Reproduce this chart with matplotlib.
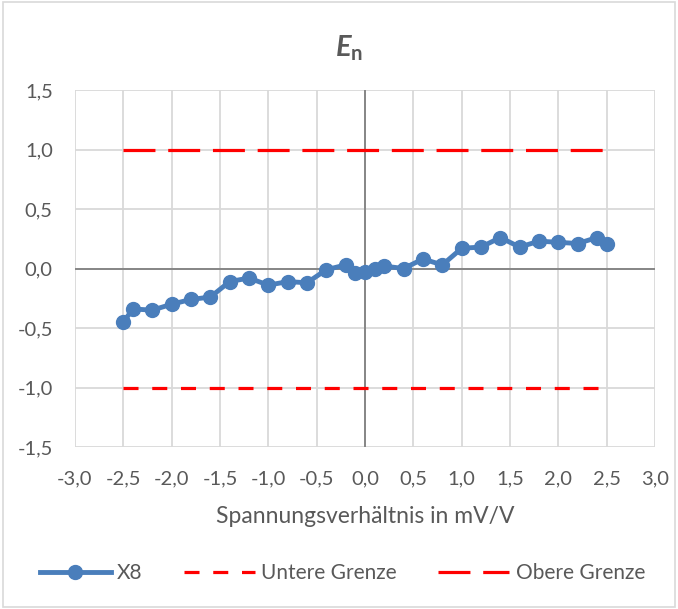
import matplotlib
matplotlib.use("Agg")
import matplotlib.pyplot as plt
from matplotlib.ticker import FuncFormatter, MultipleLocator
from matplotlib.patches import Rectangle

# data
ratio = [-2.5, -2.4, -2.2, -2.0, -1.8, -1.6, -1.4, -1.2, -1.0, -0.8, -0.6, -0.4,
         -0.2, -0.1, 0.0, 0.1, 0.2, 0.4, 0.6, 0.8, 1.0, 1.2, 1.4, 1.6, 1.8,
         2.0, 2.2, 2.4, 2.5]
en_x8 = [-0.45, -0.34, -0.35, -0.30, -0.26, -0.24, -0.11, -0.08, -0.14, -0.11,
         -0.12, -0.01, 0.03, -0.04, -0.03, 0.00, 0.02, 0.00, 0.08, 0.03, 0.17,
         0.18, 0.26, 0.18, 0.23, 0.22, 0.21, 0.26, 0.21]
limit_x = [-2.5, 2.5]
lower_limit = [-1.0, -1.0]
upper_limit = [1.0, 1.0]

txt = "#595959"
plt.rcParams["font.family"] = ["Lato", "DejaVu Sans"]
plt.rcParams["mathtext.fontset"] = "custom"
plt.rcParams["mathtext.it"] = "Lato:italic:bold"
plt.rcParams["mathtext.rm"] = "Lato:bold"

fig = plt.figure(figsize=(6.78, 6.09), dpi=100)
ax = fig.add_axes([75 / 678, 1 - 447 / 609, 580 / 678, 357 / 609])

ax.set_xlim(-3, 3)
ax.set_ylim(-1.5, 1.5)
ax.xaxis.set_major_locator(MultipleLocator(0.5))
ax.yaxis.set_major_locator(MultipleLocator(0.5))
ax.grid(True, color="#d9d9d9", lw=1.3)
ax.set_axisbelow(True)
for s in ax.spines.values():
    s.set_visible(False)
ax.axhline(0, color="#868686", lw=1.4, zorder=1)
ax.axvline(0, color="#868686", lw=1.4, zorder=1)

comma = FuncFormatter(lambda v, p: f"{v:.1f}".replace(".", ","))
ax.xaxis.set_major_formatter(comma)
ax.yaxis.set_major_formatter(comma)
ax.tick_params(length=0, labelsize=14.5, labelcolor=txt)
ax.tick_params(axis="x", pad=17)
ax.tick_params(axis="y", pad=16)

ax.plot(ratio, en_x8, color="#4a7ebb", lw=3.5, marker="o", ms=10,
        label="X8", zorder=3)
ax.plot(limit_x, lower_limit, color="#ff0000", lw=2.3, dashes=(4.7, 4.3),
        label="Untere Grenze", zorder=2)
ax.plot(limit_x, upper_limit, color="#ff0000", lw=2.3, dashes=(10, 4),
        label="Obere Grenze", zorder=2)

ax.set_xlabel("Spannungsverhältnis in mV/V", fontsize=16.5, color=txt, labelpad=13)
fig.text(0.515, 1 - 48 / 609, r"$E_\mathrm{n}$", fontsize=21, color=txt,
         ha="center", va="center")

fig.legend(loc="center", bbox_to_anchor=(0.505, 1 - 573 / 609), ncol=3,
           frameon=False, fontsize=15, labelcolor=txt, handlelength=3.4,
           columnspacing=2.0, handletextpad=0.3)

fig.patches.append(Rectangle((0.004, 0.004), 0.992, 0.992, transform=fig.transFigure,
                             fill=False, edgecolor="#d9d9d9", lw=1.2))

fig.savefig("out.png", dpi=100)
